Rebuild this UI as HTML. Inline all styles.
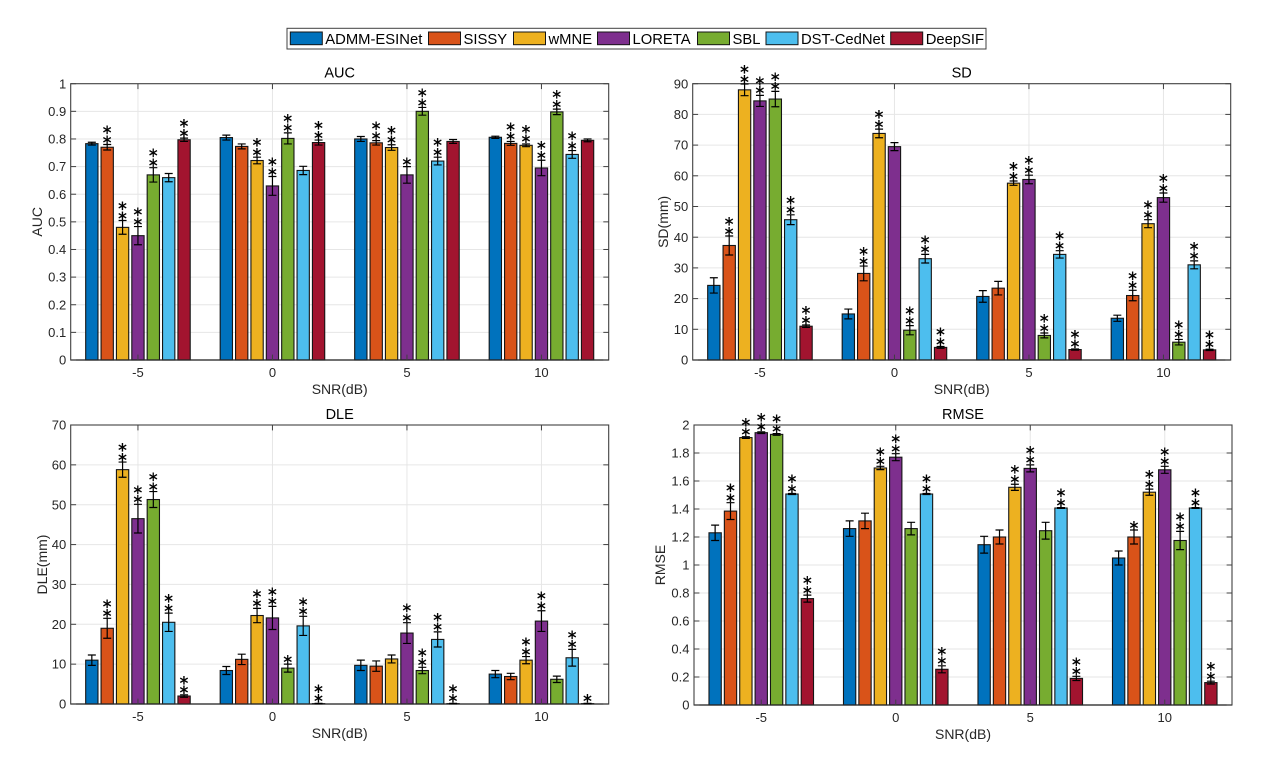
<!DOCTYPE html>
<html lang="en">
<head>
<meta charset="utf-8">
<title>Source imaging metrics across SNR</title>
<style>
html,body{margin:0;padding:0;background:#fff;}
body{width:1264px;height:772px;overflow:hidden;}
svg{display:block;}
text{font-family:"Liberation Sans",Arial,sans-serif;}
</style>
</head>
<body>
<svg id="figure" xmlns="http://www.w3.org/2000/svg" width="1264" height="772" viewBox="0 0 1264 772">
  <rect width="1264" height="772" fill="#fff"/>
</svg>
<script>
// ---- shared categories ----
const snrCategories = ['-5', '0', '5', '10'];
const methodNames = ['ADMM-ESINet', 'SISSY', 'wMNE', 'LORETA', 'SBL', 'DST-CedNet', 'DeepSIF'];
const methodColors = ['#0072BD', '#D95319', '#EDB120', '#7E2F8E', '#77AC30', '#4DBEEE', '#A2142F'];

// ---- AUC (rows: SNR, columns: method) ----
const aucValues = [
  [0.783, 0.770, 0.480, 0.450, 0.670, 0.660, 0.797],
  [0.805, 0.773, 0.722, 0.630, 0.802, 0.686, 0.787],
  [0.800, 0.786, 0.769, 0.670, 0.900, 0.720, 0.791],
  [0.806, 0.784, 0.777, 0.695, 0.898, 0.744, 0.795]
];
const aucErrors = [
  [0.005, 0.010, 0.025, 0.033, 0.026, 0.015, 0.006],
  [0.009, 0.009, 0.012, 0.034, 0.020, 0.015, 0.009],
  [0.009, 0.008, 0.010, 0.030, 0.014, 0.014, 0.007],
  [0.004, 0.007, 0.005, 0.028, 0.010, 0.014, 0.005]
];
const aucStars = [
  [0, 2, 2, 2, 2, 0, 2],
  [0, 0, 2, 2, 2, 0, 2],
  [0, 2, 2, 1, 2, 2, 0],
  [0, 2, 2, 2, 2, 2, 0]
];
const aucTicks = ['0', '0.1', '0.2', '0.3', '0.4', '0.5', '0.6', '0.7', '0.8', '0.9', '1'];

// ---- SD ----
const sdValues = [
  [24.3, 37.3, 88.0, 84.4, 85.0, 45.7, 11.0],
  [15.0, 28.2, 73.8, 69.5, 9.7, 33.0, 4.1],
  [20.7, 23.4, 57.6, 58.8, 8.0, 34.4, 3.4],
  [13.6, 21.0, 44.4, 52.9, 5.8, 31.0, 3.3]
];
const sdErrors = [
  [2.5, 3.1, 1.9, 1.8, 2.5, 1.6, 0.4],
  [1.6, 2.4, 1.4, 1.3, 1.5, 1.4, 0.3],
  [1.9, 2.2, 0.7, 1.4, 0.8, 1.2, 0.2],
  [1.0, 1.7, 1.3, 1.5, 0.9, 1.3, 0.2]
];
const sdStars = [
  [0, 2, 2, 2, 2, 2, 2],
  [0, 2, 2, 0, 2, 2, 2],
  [0, 0, 2, 2, 2, 2, 2],
  [0, 2, 2, 2, 2, 2, 2]
];
const sdTicks = ['0', '10', '20', '30', '40', '50', '60', '70', '80', '90'];

// ---- DLE ----
const dleValues = [
  [11.0, 19.0, 58.8, 46.5, 51.3, 20.5, 2.0],
  [8.4, 11.2, 22.2, 21.6, 9.0, 19.6, 0.1],
  [9.7, 9.5, 11.3, 17.8, 8.4, 16.2, 0.1],
  [7.5, 6.9, 11.0, 20.8, 6.2, 11.6, 0.1]
];
const dleErrors = [
  [1.3, 2.5, 1.9, 3.6, 2.0, 2.3, 0.3],
  [1.0, 1.3, 1.8, 2.9, 1.0, 2.4, 0.05],
  [1.3, 1.3, 1.0, 2.6, 0.8, 1.9, 0.05],
  [0.9, 0.8, 0.9, 2.6, 0.8, 2.1, 0.05]
];
const dleStars = [
  [0, 2, 2, 2, 2, 2, 2],
  [0, 0, 2, 2, 1, 2, 2],
  [0, 0, 0, 2, 2, 2, 2],
  [0, 0, 2, 2, 0, 2, 1]
];
const dleTicks = ['0', '10', '20', '30', '40', '50', '60', '70'];

// ---- RMSE ----
const rmseValues = [
  [1.230, 1.385, 1.910, 1.945, 1.933, 1.507, 0.760],
  [1.260, 1.315, 1.693, 1.770, 1.260, 1.507, 0.255],
  [1.145, 1.200, 1.555, 1.690, 1.245, 1.407, 0.190],
  [1.050, 1.200, 1.520, 1.680, 1.175, 1.407, 0.160]
];
const rmseErrors = [
  [0.055, 0.060, 0.006, 0.006, 0.006, 0.004, 0.025],
  [0.055, 0.055, 0.012, 0.025, 0.045, 0.004, 0.025],
  [0.060, 0.050, 0.022, 0.025, 0.060, 0.003, 0.015],
  [0.050, 0.050, 0.022, 0.025, 0.065, 0.003, 0.010]
];
const rmseStars = [
  [0, 2, 2, 2, 2, 2, 2],
  [0, 0, 2, 2, 0, 2, 2],
  [0, 0, 2, 2, 0, 2, 2],
  [0, 1, 2, 2, 2, 2, 2]
];
const rmseTicks = ['0', '0.2', '0.4', '0.6', '0.8', '1', '1.2', '1.4', '1.6', '1.8', '2'];

const NS = 'http://www.w3.org/2000/svg';
const svg = document.getElementById('figure');

function make(parent, tag, attrs, content) {
  const el = document.createElementNS(NS, tag);
  for (const k in attrs) el.setAttribute(k, attrs[k]);
  if (content !== undefined) el.textContent = content;
  parent.appendChild(el);
  return el;
}

function drawPanel(cfg) {
  const g = make(svg, 'g', {});
  
  

  const ticks = cfg.ticks.map(Number);
  const yMax = ticks[ticks.length - 1];
  const W = cfg.right - cfg.left;
  const H = cfg.bottom - cfg.top;
  const xAxis = pos => cfg.left + (pos + 0.5) / snrCategories.length * W;
  const yAxis = v => cfg.bottom - v / yMax * H;
  const catStep = W / snrCategories.length;
  const barStep = catStep * 0.1143;
  const barW = barStep * 0.8;

  // horizontal grid and y tick labels
  ticks.forEach((t, i) => {
    const y = yAxis(t);
    if (i > 0 && i < ticks.length - 1) {
      const grid = make(g, 'line', {x1: cfg.left, x2: cfg.right, y1: y, y2: y, stroke: '#e6e6e6', 'stroke-width': 1});
      
      
    }
    const lab = make(g, 'text', {x: cfg.left - 4.5, y: y + 4.6, 'text-anchor': 'end', 'font-size': 13, fill: '#262626'}, cfg.ticks[i]);
    
    
  });

  // vertical grid and x tick labels
  snrCategories.forEach((c, i) => {
    const x = xAxis(i);
    const grid = make(g, 'line', {x1: x, x2: x, y1: cfg.top, y2: cfg.bottom, stroke: '#e6e6e6', 'stroke-width': 1});
    
    
    const lab = make(g, 'text', {x: x, y: cfg.bottom + 17, 'text-anchor': 'middle', 'font-size': 13, fill: '#262626'}, c);
    
    
  });

  // bars
  cfg.values.forEach((row, c) => {
    row.forEach((v, m) => {
      const cx = xAxis(c) + (m - 3) * barStep;
      const bar = make(g, 'rect', {
        x: cx - barW / 2, y: yAxis(v), width: barW, height: cfg.bottom - yAxis(v),
        fill: methodColors[m], stroke: '#151515', 'stroke-width': 1.1
      });
      
      
    });
  });

  // axis box and ticks on top of bars
  const box = make(g, 'rect', {x: cfg.left, y: cfg.top, width: W, height: H, fill: 'none', stroke: '#404040', 'stroke-width': 1.1});
  
  
  make(g, 'line', {x1: cfg.left, x2: cfg.right, y1: cfg.bottom, y2: cfg.bottom, stroke: '#262626', 'stroke-width': 1.3});
  ticks.forEach(t => {
    const y = yAxis(t);
    make(g, 'line', {x1: cfg.left, x2: cfg.left + 5.4, y1: y, y2: y, stroke: '#404040', 'stroke-width': 1});
    make(g, 'line', {x1: cfg.right - 5.4, x2: cfg.right, y1: y, y2: y, stroke: '#404040', 'stroke-width': 1});
  });
  snrCategories.forEach((c, i) => {
    const x = xAxis(i);
    make(g, 'line', {x1: x, x2: x, y1: cfg.bottom, y2: cfg.bottom - 5.4, stroke: '#404040', 'stroke-width': 1});
    make(g, 'line', {x1: x, x2: x, y1: cfg.top, y2: cfg.top + 5.4, stroke: '#404040', 'stroke-width': 1});
  });

  // error bars and significance stars
  cfg.values.forEach((row, c) => {
    row.forEach((v, m) => {
      const cx = xAxis(c) + (m - 3) * barStep;
      const e = cfg.errors[c][m];
      const yTop = yAxis(v + e);
      const yBot = yAxis(Math.max(0, v - e));
      const err = make(g, 'path', {
        d: 'M' + cx + ' ' + yTop + 'V' + yBot + 'M' + (cx - 4) + ' ' + yTop + 'H' + (cx + 4) + 'M' + (cx - 4) + ' ' + yBot + 'H' + (cx + 4),
        fill: 'none', stroke: '#000', 'stroke-width': 1.2
      });
      
      
      for (let s = 0; s < cfg.stars[c][m]; s++) {
        const star = make(g, 'text', {
          x: cx, y: yTop - 0.7 - s * 9.8, 'text-anchor': 'middle', 'font-size': 13.5, fill: '#000',
          stroke: '#000', 'stroke-width': 0.2,
          style: 'font-family:"DejaVu Sans",sans-serif'
        }, '\u2217');
        
        
      }
    });
  });

  // titles
  const title = make(g, 'text', {x: (cfg.left + cfg.right) / 2, y: cfg.top - 6, 'text-anchor': 'middle', 'font-size': 14.5, fill: '#000'}, cfg.title);
  
  
  const xl = make(g, 'text', {x: (cfg.left + cfg.right) / 2, y: cfg.bottom + 34, 'text-anchor': 'middle', 'font-size': 14, fill: '#262626'}, 'SNR(dB)');
  
  
  const yx = cfg.ylabelX;
  const yy = (cfg.top + cfg.bottom) / 2;
  const yl = make(g, 'text', {x: yx, y: yy, 'text-anchor': 'middle', 'font-size': 14, fill: '#262626', transform: 'rotate(-90 ' + yx + ' ' + yy + ')'}, cfg.ylabel);
  
  
}

drawPanel({key: 'auc', title: 'AUC', ylabel: 'AUC', ylabelX: 42, left: 70.7, right: 608.7, top: 83.7, bottom: 360,
  values: aucValues, errors: aucErrors, stars: aucStars, ticks: aucTicks});
drawPanel({key: 'sd', title: 'SD', ylabel: 'SD(mm)', ylabelX: 668, left: 692.7, right: 1230.7, top: 83.7, bottom: 360,
  values: sdValues, errors: sdErrors, stars: sdStars, ticks: sdTicks});
drawPanel({key: 'dle', title: 'DLE', ylabel: 'DLE(mm)', ylabelX: 47, left: 70.7, right: 608.7, top: 425, bottom: 704,
  values: dleValues, errors: dleErrors, stars: dleStars, ticks: dleTicks});
drawPanel({key: 'rmse', title: 'RMSE', ylabel: 'RMSE', ylabelX: 665, left: 694, right: 1232, top: 425, bottom: 705,
  values: rmseValues, errors: rmseErrors, stars: rmseStars, ticks: rmseTicks});

// legend
const legend = make(svg, 'g', {});


make(legend, 'rect', {x: 287, y: 28.3, width: 699, height: 20.7, fill: '#fff', stroke: '#404040', 'stroke-width': 1});
const legendStart = [290.3, 428.5, 513.5, 597.5, 697.5, 766, 890.7];
methodNames.forEach((name, i) => {
  const entry = make(legend, 'g', {});
  
  
  make(entry, 'rect', {x: legendStart[i], y: 32, width: 32, height: 12.7, fill: methodColors[i], stroke: '#151515', 'stroke-width': 1});
  make(entry, 'text', {x: legendStart[i] + 35, y: 44, 'font-size': 14.8, fill: '#000'}, name);
});
</script>
</body>
</html>
